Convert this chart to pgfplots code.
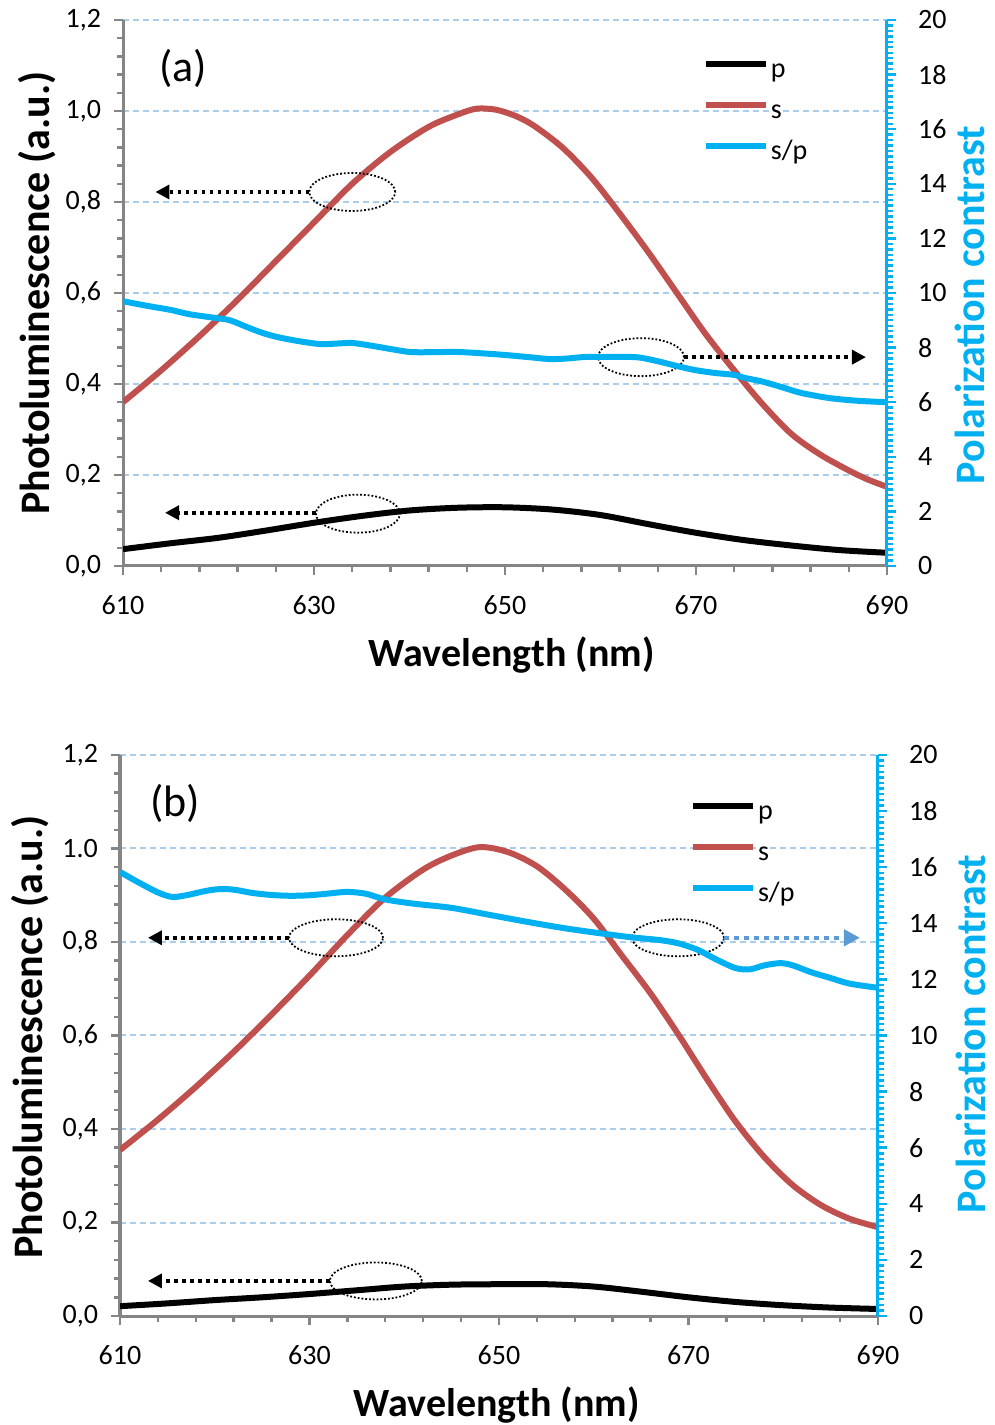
\documentclass[border=0pt]{standalone}
\usepackage{fontspec}
\setmainfont{Carlito}
\usepackage{pgfplots}
\pgfplotsset{compat=1.18}
\usetikzlibrary{arrows.meta}
\definecolor{pred}{HTML}{C0504D}
\definecolor{pcyan}{HTML}{00B0F0}
\definecolor{gridb}{HTML}{A9CDEB}
\definecolor{axgray}{HTML}{858585}
\definecolor{arrb}{HTML}{5B9BD5}
\newcommand{\tickfont}{\fontsize{14}{16}\selectfont}
\newcommand{\xlabfont}{\fontsize{20}{23}\selectfont\bfseries}
\newcommand{\ylabfont}{\fontsize{21}{24}\selectfont\bfseries}
\tikzset{
  ell/.style={black, line width=0.9pt, densely dotted},
  arr/.style={black, line width=1.8pt, dash pattern=on 1.8pt off 2.2pt,
    -{Triangle[length=7pt,width=7pt]}},
  arrblue/.style={arrb, line width=2pt, dash pattern=on 2.5pt off 2.5pt,
    -{Triangle[length=8pt,width=8pt]}},
}
\pgfplotsset{
  common/.style={scale only axis, xmin=610, xmax=690,
    /pgf/number format/assume math mode=true, tick align=outside,
    major tick length=4.5pt, minor tick length=3pt},
  leftax/.style={common, ymin=0, ymax=1.2,
    axis x line*=bottom, axis y line*=left,
    xtick={610,630,650,670,690}, xticklabels={610,630,650,670,690},
    minor x tick num=4,
    ytick={0,0.2,0.4,0.6,0.8,1,1.2},
    minor y tick num=4,
    ymajorgrids,
    major grid style={gridb, line width=1pt, dash pattern=on 3pt off 2pt},
    axis line style={axgray, line width=1.5pt},
    every tick/.style={axgray, line width=1.2pt},
    xticklabel style={font=\tickfont, black, yshift=-7pt},
    yticklabel style={font=\tickfont, black, xshift=-3pt},
    ylabel={Photoluminescence (a.u.)},
    xlabel={Wavelength (nm)},
    ylabel style={font=\ylabfont, anchor=center},
    xlabel style={font=\xlabfont, anchor=center},
    legend cell align=left,
    legend image code/.code={\draw[##1] (0pt,3.5pt) -- (30pt,3.5pt);},
    legend style={draw=none, fill=none, inner sep=0pt, outer sep=0pt,
      row sep=0pt, font=\tickfont,
      nodes={inner sep=0pt, text height=13.5pt, text depth=7pt},
      /tikz/every odd column/.style={column sep=1pt}},
  },
  rightax/.style={common, ymin=0, ymax=20,
    axis x line=none, axis y line*=right,
    ytick={0,2,4,6,8,10,12,14,16,18,20},
    yticklabels={0,2,4,6,8,10,12,14,16,18,20},
    minor y tick num=9,
    axis line style={pcyan, line width=1.5pt},
    every tick/.style={pcyan, line width=1.2pt},
    yticklabel style={font=\tickfont, black, xshift=7.5pt},
    ylabel={Polarization contrast},
    ylabel style={font=\fontsize{21}{24}\selectfont\bfseries, pcyan, anchor=center},
  },
  curve/.style={line width=3pt, smooth, tension=0.5},
}
\begin{document}
\begin{tikzpicture}
% ---------------- panel (a) ----------------
\begin{axis}[leftax, at={(61.5pt,429.5pt)}, anchor=south west,
  width=382pt, height=273pt,
  yticklabels={{0,0},{0,2},{0,4},{0,6},{0,8},{1,0},{1,2}},
  ylabel style={at={(axis description cs:-0.1126,0.5)}},
  xlabel style={at={(axis description cs:0.509,-0.163)}},
  legend style={at={(axis description cs:0.759,0.944)}, anchor=north west}]
\addplot[curve, black] coordinates {
(610,0.037) (615,0.05) (620,0.062) (625,0.078) (630,0.095) (635,0.11)
(640,0.122) (645,0.128) (650,0.129) (655,0.124) (660,0.112) (665,0.092)
(670,0.073) (675,0.057) (680,0.045) (685,0.035) (690,0.029)};
\addlegendentry{p}
\addplot[curve, pred] coordinates {
(610,0.36) (614,0.43) (618,0.505) (622,0.585) (626,0.67) (630,0.755)
(634,0.84) (638,0.91) (642,0.965) (645,0.992) (647,1.005) (649,1.003)
(651,0.99) (653,0.968) (656,0.92) (659,0.855) (662,0.775) (665,0.69)
(668,0.6) (671,0.51) (674,0.43) (677,0.355) (680,0.29) (683,0.245)
(686,0.21) (688,0.19) (690,0.174)};
\addlegendentry{s}
\addlegendimage{pcyan, line width=3pt}
\addlegendentry{s/p}
\node[font=\fontsize{22}{24}\selectfont] at (axis cs:616.3,1.094) {(a)};
\draw[ell] (axis cs:634.0,0.822) ellipse [x radius=21.5pt, y radius=9.5pt];
\draw[arr] (axis cs:629.5,0.822) -- (axis cs:613.4,0.822);
\draw[ell] (axis cs:634.6,0.115) ellipse [x radius=21pt, y radius=9.5pt];
\draw[arr] (axis cs:630.2,0.117) -- (axis cs:614.4,0.117);
\draw[ell] (axis cs:664.24,0.459) ellipse [x radius=21.5pt, y radius=9.5pt];
\draw[arr] (axis cs:668.74,0.459) -- (axis cs:687.8,0.459);
\end{axis}
\begin{axis}[rightax, at={(61.5pt,429.5pt)}, anchor=south west,
  width=382pt, height=273pt,
  ylabel style={at={(axis description cs:1.109,0.478)}}]
\addplot[curve, pcyan] coordinates {
(610,9.7) (611,9.63) (613,9.5) (615,9.38) (617,9.22) (619.8,9.08)
(621.2,9.0) (623,8.75) (624.5,8.55) (626,8.4) (628,8.26) (630.6,8.13)
(632.5,8.15) (634,8.17) (636,8.07) (638,7.95) (640,7.84) (642,7.83)
(645,7.84) (648,7.78) (650,7.73) (652.5,7.65) (654.7,7.58) (656.5,7.6)
(658.6,7.66) (662,7.66) (664,7.64) (666,7.5) (668.3,7.3) (670,7.17)
(672,7.07) (674,7.0) (675,6.9) (677,6.75) (679,6.55) (681,6.34)
(684,6.15) (687,6.05) (690,6.0)};
\end{axis}
% ---------------- panel (b) ----------------
\begin{axis}[leftax, at={(60pt,54.5pt)}, anchor=south west,
  width=379pt, height=280.5pt,
  yticklabels={{0,0},{0,2},{0,4},{0,6},{0,8},{1.0},{1,2}},
  ylabel style={at={(axis description cs:-0.119,0.497)}},
  xlabel style={at={(axis description cs:0.497,-0.159)}},
  legend style={at={(axis description cs:0.752,0.934)}, anchor=north west}]
\addplot[curve, black] coordinates {
(610,0.021) (615,0.027) (620,0.034) (625,0.04) (630,0.047) (635,0.055)
(640,0.063) (645,0.067) (650,0.068) (655,0.068) (660,0.063) (665,0.052)
(670,0.04) (675,0.03) (680,0.023) (685,0.018) (690,0.015)};
\addlegendentry{p}
\addplot[curve, pred] coordinates {
(610,0.355) (614,0.42) (618,0.49) (622,0.565) (626,0.645) (630,0.728)
(634,0.815) (638,0.895) (642,0.955) (645,0.985) (648,1.003) (651,0.992)
(654,0.962) (657,0.912) (660,0.85) (663,0.77) (666,0.69) (669,0.6)
(672,0.505) (675,0.415) (678,0.34) (681,0.28) (684,0.237) (687,0.208)
(690,0.19)};
\addlegendentry{s}
\addlegendimage{pcyan, line width=3pt}
\addlegendentry{s/p}
\node[font=\fontsize{22}{24}\selectfont] at (axis cs:615.8,1.097) {(b)};
\draw[ell] (axis cs:632.8,0.809) ellipse [x radius=23.5pt, y radius=9.25pt];
\draw[arr] (axis cs:627.84,0.809) -- (axis cs:612.95,0.809);
\draw[ell] (axis cs:637.0,0.075) ellipse [x radius=23pt, y radius=9.25pt];
\draw[arr] (axis cs:632.16,0.075) -- (axis cs:612.95,0.075);
\draw[ell] (axis cs:668.9,0.809) ellipse [x radius=23pt, y radius=9.25pt];
\draw[arrblue] (axis cs:673.75,0.809) -- (axis cs:688.1,0.809);
\end{axis}
\begin{axis}[rightax, at={(60pt,54.5pt)}, anchor=south west,
  width=379pt, height=280.5pt,
  ylabel style={at={(axis description cs:1.122,0.503)}}]
\addplot[curve, pcyan] coordinates {
(610,15.83) (612,15.45) (614,15.1) (615.5,14.94) (617,15.0) (619,15.15)
(620.5,15.22) (622,15.2) (624,15.08) (626,15.01) (628,14.98) (630,15.0)
(632,15.06) (634,15.12) (636,15.05) (638,14.85) (641,14.7) (645,14.55)
(649,14.3) (653,14.05) (657,13.82) (661,13.63) (664,13.5) (667,13.4)
(669,13.28) (671,13.05) (673,12.7) (675,12.4) (676.5,12.36) (678,12.5)
(679.7,12.58) (681,12.5) (683,12.25) (685,12.05) (687,11.85) (690,11.7)};
\end{axis}
\pgfresetboundingbox
\path (0pt,0pt) rectangle (497.5pt,712.5pt);
\end{tikzpicture}
\end{document}
